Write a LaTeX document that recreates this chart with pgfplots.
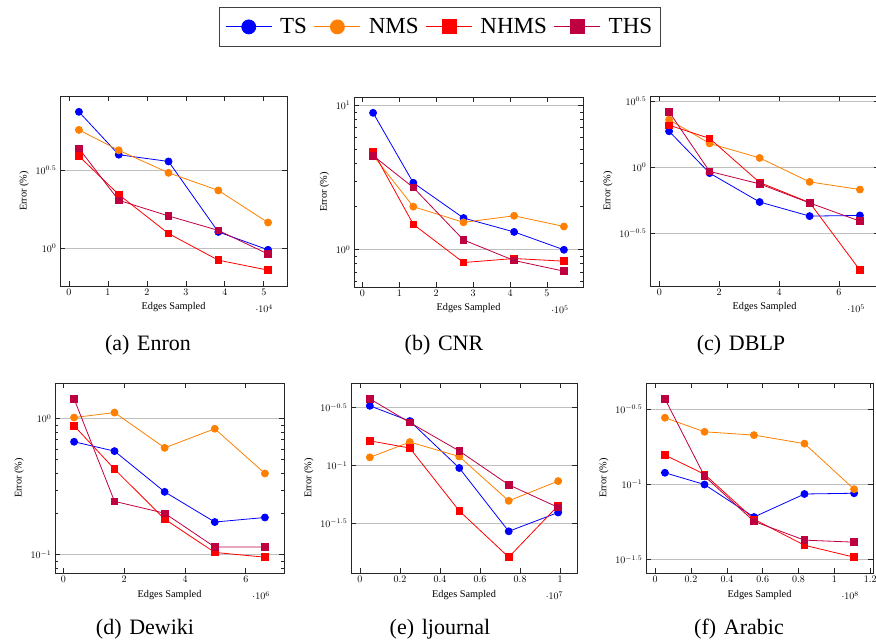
\documentclass[border=0pt]{standalone}
\usepackage{fontspec}
\setmainfont{Liberation Serif}
\usepackage{pgfplots}
\pgfplotsset{compat=1.18}

\pgfplotsset{
  every axis/.append style={
    scale only axis,
    height=190pt,
    ymajorgrids,
    major grid style={gray!50, line width=0.9pt},
    axis line style={black!85, line width=0.9pt},
    tick style={black!85, line width=0.7pt},
    major tick length=5pt,
    minor tick length=3pt,
    tick label style={font=\fontsize{10}{12}\selectfont},
    xlabel style={font=\fontsize{10.3}{12}\selectfont},
    ylabel style={font=\fontsize{10.3}{12}\selectfont},
    xlabel={Edges Sampled},
    ylabel={Error (\%)},
  },
}

\begin{document}
\begin{tikzpicture}

% (a) Enron
\begin{axis}[ymode=log, anchor=south west, at={(60pt,-286pt)}, width=227pt,
  xtick={0,10000,20000,30000,40000,50000},
  ytick={1,3.16228}, yticklabels={$10^{0}$,$10^{0.5}$},
  legend columns=-1,
  legend image code/.code={\draw[mark repeat=2,mark phase=2,mark size=7pt]
    plot coordinates {(0pt,0pt) (23pt,0pt) (46pt,0pt)};},
  legend style={at={(axis description cs:1.673,1.468)}, anchor=north,
    draw=black!75, line width=0.9pt,
    font=\fontsize{23}{26}\selectfont,
    inner xsep=6pt, inner ysep=9pt,
    /tikz/every even column/.append style={column sep=5pt},
    /tikz/every odd column/.append style={column sep=6pt}},
]
\addplot[blue, line width=0.8pt, mark=*, mark size=3.5pt] coordinates {(2555,7.53) (12775,3.99) (25550,3.61) (38325,1.27) (51100,0.975)};
\addplot[orange, line width=0.8pt, mark=*, mark size=3.5pt] coordinates {(2555,5.76) (12775,4.26) (25550,3.05) (38325,2.35) (51100,1.46)};
\addplot[red, line width=0.8pt, mark=square*, mark size=3.3pt] coordinates {(2555,3.91) (12775,2.21) (25550,1.24) (38325,0.836) (51100,0.721)};
\addplot[purple, line width=0.8pt, mark=square*, mark size=3.3pt] coordinates {(2555,4.38) (12775,2.03) (25550,1.61) (38325,1.30) (51100,0.915)};
\legend{TS,NMS,NHMS,THS}
\end{axis}

% (b) CNR
\begin{axis}[ymode=log, anchor=south west, at={(354pt,-287pt)}, width=229pt,
  xtick={0,100000,200000,300000,400000,500000}]
\addplot[blue, line width=0.8pt, mark=*, mark size=3.5pt] coordinates {(29000,8.89) (138000,2.91) (274000,1.66) (411000,1.33) (546000,1.00)};
\addplot[orange, line width=0.8pt, mark=*, mark size=3.5pt] coordinates {(29000,4.51) (138000,1.99) (274000,1.55) (411000,1.72) (546000,1.45)};
\addplot[red, line width=0.8pt, mark=square*, mark size=3.3pt] coordinates {(29000,4.81) (138000,1.50) (274000,0.816) (411000,0.87) (546000,0.834)};
\addplot[purple, line width=0.8pt, mark=square*, mark size=3.3pt] coordinates {(29000,4.49) (138000,2.70) (274000,1.17) (411000,0.843) (546000,0.711)};
\end{axis}

% (c) DBLP
\begin{axis}[ymode=log, anchor=south west, at={(650pt,-286pt)}, width=229pt,
  xtick={0,200000,400000,600000}]
\addplot[blue, line width=0.8pt, mark=*, mark size=3.5pt] coordinates {(32500,1.88) (167800,0.905) (335000,0.546) (502000,0.427) (670000,0.432)};
\addplot[orange, line width=0.8pt, mark=*, mark size=3.5pt] coordinates {(32500,2.30) (167800,1.52) (335000,1.18) (502000,0.776) (670000,0.679)};
\addplot[red, line width=0.8pt, mark=square*, mark size=3.3pt] coordinates {(32500,2.09) (167800,1.66) (335000,0.768) (502000,0.541) (670000,0.166)};
\addplot[purple, line width=0.8pt, mark=square*, mark size=3.3pt] coordinates {(32500,2.64) (167800,0.932) (335000,0.750) (502000,0.537) (670000,0.391)};
\end{axis}

% (d) Dewiki
\begin{axis}[ymode=log, anchor=south west, at={(55pt,-573pt)}, width=229pt,
  xtick={0,2000000,4000000,6000000}]
\addplot[blue, line width=0.8pt, mark=*, mark size=3.5pt] coordinates {(350000,0.677) (1680000,0.578) (3330000,0.290) (4980000,0.174) (6630000,0.188)};
\addplot[orange, line width=0.8pt, mark=*, mark size=3.5pt] coordinates {(350000,1.02) (1680000,1.11) (3330000,0.611) (4980000,0.844) (6630000,0.396)};
\addplot[red, line width=0.8pt, mark=square*, mark size=3.3pt] coordinates {(350000,0.888) (1680000,0.426) (3330000,0.183) (4980000,0.104) (6630000,0.096)};
\addplot[purple, line width=0.8pt, mark=square*, mark size=3.3pt] coordinates {(350000,1.40) (1680000,0.247) (3330000,0.202) (4980000,0.114) (6630000,0.114)};
\end{axis}

% (e) ljournal
\begin{axis}[ymode=log, anchor=south west, at={(351pt,-573pt)}, width=226pt,
  xtick={0,2000000,4000000,6000000,8000000,10000000}]
\addplot[blue, line width=0.8pt, mark=*, mark size=3.5pt] coordinates {(494000,0.329) (2490000,0.243) (4960000,0.0955) (7430000,0.0271) (9900000,0.0394)};
\addplot[orange, line width=0.8pt, mark=*, mark size=3.5pt] coordinates {(494000,0.118) (2490000,0.160) (4960000,0.120) (7430000,0.0497) (9900000,0.0736)};
\addplot[red, line width=0.8pt, mark=square*, mark size=3.3pt] coordinates {(494000,0.164) (2490000,0.142) (4960000,0.0407) (7430000,0.0162) (9900000,0.0453)};
\addplot[purple, line width=0.8pt, mark=square*, mark size=3.3pt] coordinates {(494000,0.378) (2490000,0.236) (4960000,0.134) (7430000,0.0684) (9900000,0.0436)};
\end{axis}

% (f) Arabic
\begin{axis}[ymode=log, anchor=south west, at={(646pt,-573pt)}, width=227pt,
  xtick={0,20000000,40000000,60000000,80000000,100000000,120000000},
  ytick={0.0316228,0.1,0.316228}, yticklabels={$10^{-1.5}$,$10^{-1}$,$10^{-0.5}$}]
\addplot[blue, line width=0.8pt, mark=*, mark size=3.5pt] coordinates {(5400000,0.1197) (27500000,0.100) (55100000,0.0608) (83300000,0.0865) (111000000,0.0875)};
\addplot[orange, line width=0.8pt, mark=*, mark size=3.5pt] coordinates {(5400000,0.278) (27500000,0.224) (55100000,0.213) (83300000,0.187) (111000000,0.0931)};
\addplot[red, line width=0.8pt, mark=square*, mark size=3.3pt] coordinates {(5400000,0.157) (27500000,0.117) (55100000,0.0588) (83300000,0.0395) (111000000,0.0329)};
\addplot[purple, line width=0.8pt, mark=square*, mark size=3.3pt] coordinates {(5400000,0.371) (27500000,0.1136) (55100000,0.0569) (83300000,0.0427) (111000000,0.0414)};
\end{axis}

\begin{scope}[every node/.style={font=\fontsize{22}{26}\selectfont}]
\node at (148pt,-345pt) {(a)\hspace{0.35em}Enron};
\node at (444pt,-345pt) {(b)\hspace{0.35em}CNR};
\node at (741pt,-345pt) {(c)\hspace{0.35em}DBLP};
\node at (145pt,-629pt) {(d)\hspace{0.35em}Dewiki};
\node at (440pt,-629pt) {(e)\hspace{0.35em}ljournal};
\node at (739pt,-629pt) {(f)\hspace{0.35em}Arabic};
\end{scope}

\pgfresetboundingbox
\useasboundingbox (0pt,0pt) rectangle (876pt,-643pt);
\end{tikzpicture}
\end{document}
